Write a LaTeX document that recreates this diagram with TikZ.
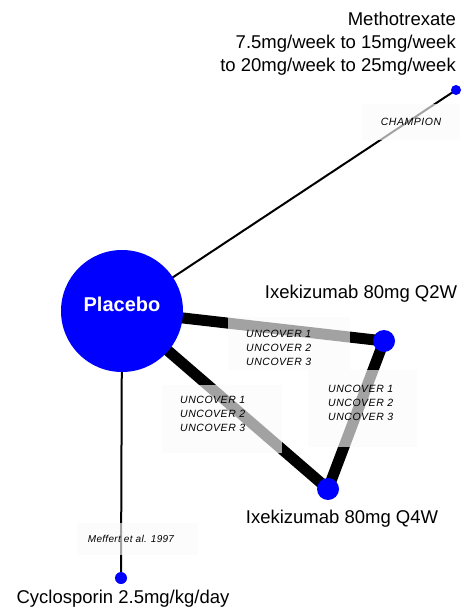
\documentclass[tikz,border=0pt]{standalone}
\usepackage{fontspec}
\setmainfont{Liberation Sans}
\pgfdeclarelayer{edges}
\pgfdeclarelayer{studies}
\pgfsetlayers{edges,studies,main}
\begin{document}
\begin{tikzpicture}[x=1pt,y=-1pt,
  trt/.style={circle,fill=blue,inner sep=0pt,minimum size=#1},
  thinedge/.style={line width=2pt,line cap=butt},
  thickedge/.style={line width=11pt,line cap=butt},
  studybox/.style={fill=black!2,fill opacity=0.65},
  studytext/.style={font=\fontsize{10.5}{14}\selectfont\itshape\addfontfeatures{LetterSpace=5},
    align=left,inner sep=0pt,text=black},
  trtlabel/.style={font=\fontsize{18.5}{23}\selectfont,inner sep=0pt,text=black}]
\useasboundingbox (0,0) rectangle (463,612);

% treatments
\node[trt=122pt] (pl) at (122,311) {};
\node[trt=10pt]  (mtx) at (456,90) {};
\node[trt=22pt]  (q2) at (384,341) {};
\node[trt=22pt]  (q4) at (328,489) {};
\node[trt=12pt]  (cy) at (121,578) {};

\node[font=\fontsize{20}{24}\selectfont\bfseries,text=white,inner sep=0pt]
  (pltext) at (122,304) {Placebo};

% comparisons
\begin{pgfonlayer}{edges}
  \draw[thinedge]  (pl.center) -- (mtx.center);
  \draw[thinedge]  (pl.center) -- (cy.center);
  \draw[thickedge] (pl.center) -- (q2.center);
  \draw[thickedge] (pl.center) -- (q4.center);
  \draw[thickedge] (q2.center) -- (q4.center);
\end{pgfonlayer}

% study labels on translucent panels
\begin{pgfonlayer}{studies}
  \fill[studybox] (362,104) rectangle (460,140);
  \fill[studybox] (228,317) rectangle (350,370);
  \fill[studybox] (162,385) rectangle (282,453);
  \fill[studybox] (308,370) rectangle (417,447);
  \fill[studybox] (77,523) rectangle (198,555);
  \node[studytext] (champ) at (411,122) {CHAMPION};
  \node[studytext,anchor=north west] (unc1) at (246,329.5)
    {UNCOVER 1\\UNCOVER 2\\UNCOVER 3};
  \node[studytext,anchor=north west] (unc2) at (180,396)
    {UNCOVER 1\\UNCOVER 2\\UNCOVER 3};
  \node[studytext,anchor=north west] (unc3) at (328,384.5)
    {UNCOVER 1\\UNCOVER 2\\UNCOVER 3};
  \node[studytext,font=\fontsize{10}{12}\selectfont\itshape\addfontfeatures{LetterSpace=3}]
    (meff) at (131,539) {Meffert et al. 1997};
\end{pgfonlayer}

% treatment names
\node[trtlabel,align=right,anchor=north east] (mtxtext) at (456,12)
  {Methotrexate\\7.5mg/week to 15mg/week\\to 20mg/week to 25mg/week};
\node[trtlabel,anchor=base] (q2text) at (361,298) {Ixekizumab 80mg Q2W};
\node[trtlabel,anchor=base] (q4text) at (342,523) {Ixekizumab 80mg Q4W};
\node[trtlabel,anchor=base] (cytext) at (123,603) {Cyclosporin 2.5mg/kg/day};
\end{tikzpicture}
\end{document}
